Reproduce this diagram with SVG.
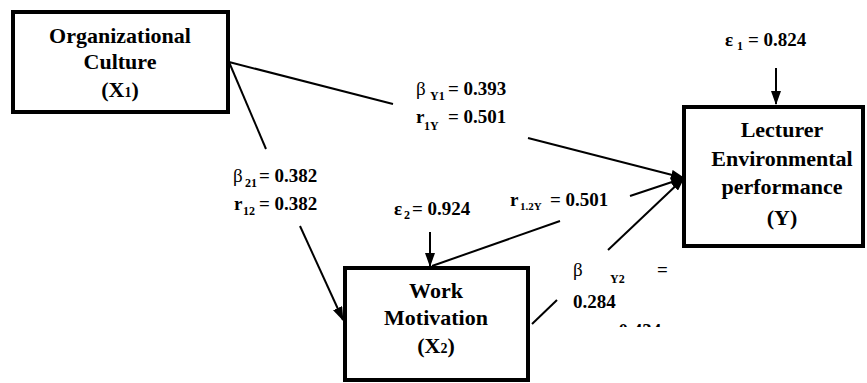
<svg xmlns="http://www.w3.org/2000/svg" width="867" height="383" viewBox="0 0 867 383">
<style>
.box{fill:#fff;stroke:#000;stroke-width:4}
.bt{font-family:'Liberation Serif','DejaVu Serif',serif;font-weight:bold;font-size:22px;fill:#000;text-anchor:middle}
.bs{font-size:14px}
.lbl{font-family:'Liberation Serif','DejaVu Serif',serif;font-weight:bold;font-size:19px;fill:#000}
.g{font-weight:normal}
.sub{font-size:12px}
.ln{stroke:#000;stroke-width:2;fill:none}
</style>
<defs>
<marker id="ah" viewBox="0 0 14 10" refX="13" refY="5" markerWidth="14" markerHeight="10" markerUnits="userSpaceOnUse" orient="auto">
<path d="M0,0 L14,5 L0,10 Z" fill="#000"/>
</marker>
<clipPath id="cut"><rect x="560" y="310" width="120" height="17"/></clipPath>
</defs>
<g id="connectors">
<line class="ln" x1="229" y1="62" x2="393" y2="104"/>
<line class="ln" x1="528" y1="138" x2="684" y2="178" marker-end="url(#ah)"/>
<line class="ln" x1="229" y1="62" x2="266" y2="149"/>
<line class="ln" x1="300" y1="226" x2="343" y2="320" marker-end="url(#ah)"/>
<line class="ln" x1="432" y1="266" x2="560" y2="221"/>
<line class="ln" x1="630" y1="196" x2="684" y2="178" marker-end="url(#ah)"/>
<line class="ln" x1="532" y1="324" x2="557" y2="300"/>
<line class="ln" x1="608" y1="250" x2="684" y2="178" marker-end="url(#ah)"/>
<line class="ln" x1="776" y1="68" x2="776" y2="104" marker-end="url(#ah)"/>
<line class="ln" x1="430" y1="232" x2="430" y2="266" marker-end="url(#ah)"/>
</g>
<g id="X1">
<rect class="box" x="13" y="12" width="215" height="100"/>
<text class="bt" x="120" y="43">Organizational</text>
<text class="bt" x="120" y="69">Culture</text>
<text class="bt" x="120" y="97">(X<tspan class="bs">1</tspan>)</text>
</g>
<g id="Y">
<rect class="box" x="684" y="107" width="179" height="139"/>
<text class="bt" x="782" y="137">Lecturer</text>
<text class="bt" x="782" y="166">Environmental</text>
<text class="bt" x="782" y="194">performance</text>
<text class="bt" x="782" y="225">(Y)</text>
</g>
<g id="X2">
<rect class="box" x="345" y="268" width="183" height="112"/>
<text class="bt" x="436" y="298">Work</text>
<text class="bt" x="436" y="325">Motivation</text>
<text class="bt" x="436" y="353">(X<tspan class="bs">2</tspan>)</text>
</g>
<g id="labels">
<text class="lbl" x="725" y="46">ε<tspan class="sub" x="737" y="50">1</tspan><tspan x="748" y="46">= 0.824</tspan></text>
<text class="lbl" x="394" y="215">ε<tspan class="sub" x="404" y="219">2</tspan><tspan x="412" y="215">= 0.924</tspan></text>
<text class="lbl" x="416" y="95"><tspan class="g">β</tspan><tspan class="sub" x="430" y="100">Y1</tspan><tspan x="448" y="95">= 0.393</tspan></text>
<text class="lbl" x="416" y="123">r<tspan class="sub" x="424" y="130">1Y</tspan><tspan x="448" y="123">= 0.501</tspan></text>
<text class="lbl" x="233" y="182"><tspan class="g">β</tspan><tspan class="sub" x="245" y="187">21</tspan><tspan x="259" y="182">= 0.382</tspan></text>
<text class="lbl" x="234" y="210">r<tspan class="sub" x="243" y="215">12</tspan><tspan x="259" y="210">= 0.382</tspan></text>
<text class="lbl" x="510" y="206">r<tspan class="sub" x="520" y="210" style="font-size:11px">1.2Y</tspan><tspan x="550" y="206">= 0.501</tspan></text>
<text class="lbl" x="573" y="276"><tspan class="g">β</tspan><tspan class="sub" x="610" y="283">Y2</tspan><tspan x="657" y="276">=</tspan></text>
<text class="lbl" x="573" y="308">0.284</text>
<text class="lbl" x="573" y="337" clip-path="url(#cut)">r<tspan class="sub" x="583" y="341">Y2</tspan><tspan x="603" y="337">= 0.434</tspan></text>
</g>
</svg>
